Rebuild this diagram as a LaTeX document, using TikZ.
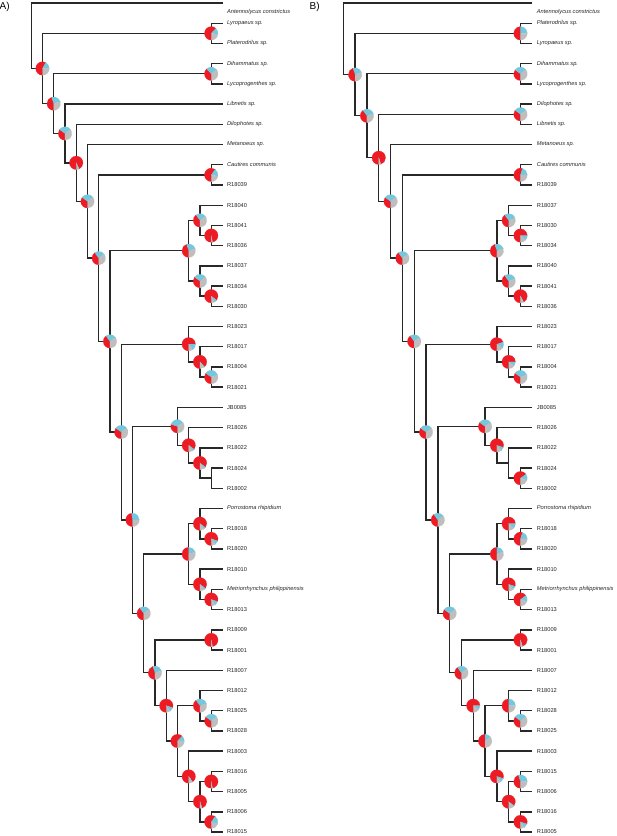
\documentclass[tikz,border=0pt]{standalone}
\usepackage{fontspec}
\setmainfont{Liberation Sans}
\usetikzlibrary{calc}
\definecolor{pred}{RGB}{237,28,36}
\definecolor{pcy}{RGB}{115,200,222}
\definecolor{pgr}{RGB}{190,190,190}
\definecolor{brc}{RGB}{40,40,40}
\newcommand\tipx{222.5}
\newcommand\stepx{11.25}
\newcommand\pierad{6.8pt}
\newcommand\inode[4]{%
  \pgfmathsetmacro\tmpx{\tipx-\stepx*#2}%
  \path let \p1=(#3), \p2=(#4) in coordinate (#1) at (\tmpx pt, {(\y1+\y2)/2});%
  \draw[br] (#3) -| (#1) |- (#4);}
\newcommand\tipnode[4]{%
  \coordinate (#1) at (\tipx, {3+20.22*#2});%
  \node[#4] (l#1) at ([xshift=4.4pt]#1) {#3};}
\newcommand\npie[4]{%
  \pgfmathsetmacro\pieA{-90-3.6*#2}%
  \pgfmathsetmacro\pieB{\pieA-3.6*#3}%
  \filldraw[pred, line width=0.1pt] (#1) -- ++(-90:\pierad) arc[start angle=-90, end angle=\pieA, radius=\pierad] -- cycle;
  \filldraw[pcy, line width=0.1pt] (#1) -- ++(\pieA:\pierad) arc[start angle=\pieA, end angle=\pieB, radius=\pierad] -- cycle;
  \filldraw[pgr, line width=0.1pt] (#1) -- ++(\pieB:\pierad) arc[start angle=\pieB, end angle=-450, radius=\pierad] -- cycle;}
\tikzset{
  br/.style={draw=brc, line width=1.4pt},
  lab/.style={anchor=west, inner sep=0pt, font=\fontsize{5.7}{6.5}\selectfont, text=black!85},
  spname/.style={lab, font=\fontsize{5.7}{6.5}\selectfont\itshape},
  panel/.style={anchor=west, inner sep=0pt, font=\fontsize{10}{12}\selectfont}
}
\begin{document}
\begin{tikzpicture}[x=1pt, y=-1pt]
\useasboundingbox (0,0) rectangle (617,836);
\node[panel] (pA) at (-0.5,6.5) {A)};
\node[panel] (pB) at (309.5,6.5) {B)};
% ---------- Panel A ----------
\def\tipx{222.5}\def\stepx{11.25}
\tipnode{a0}{0}{Antennolycus constrictus}{spname,yshift=-9.5pt}
\tipnode{a1}{1}{Lyropaeus sp.}{spname}
\tipnode{a2}{2}{Platerodrilus sp.}{spname}
\tipnode{a3}{3}{Dihammatus sp.}{spname}
\tipnode{a4}{4}{Lycoprogenthes sp.}{spname}
\tipnode{a5}{5}{Libnetis sp.}{spname}
\tipnode{a6}{6}{Dilophotes sp.}{spname}
\tipnode{a7}{7}{Metanoeus sp.}{spname}
\tipnode{a8}{8}{Cautires communis}{spname}
\tipnode{a9}{9}{R18039}{lab}
\tipnode{a10}{10}{R18040}{lab}
\tipnode{a11}{11}{R18041}{lab}
\tipnode{a12}{12}{R18036}{lab}
\tipnode{a13}{13}{R18037}{lab}
\tipnode{a14}{14}{R18034}{lab}
\tipnode{a15}{15}{R18030}{lab}
\tipnode{a16}{16}{R18023}{lab}
\tipnode{a17}{17}{R18017}{lab}
\tipnode{a18}{18}{R18004}{lab}
\tipnode{a19}{19}{R18021}{lab}
\tipnode{a20}{20}{JB0085}{lab}
\tipnode{a21}{21}{R18026}{lab}
\tipnode{a22}{22}{R18022}{lab}
\tipnode{a23}{23}{R18024}{lab}
\tipnode{a24}{24}{R18002}{lab}
\tipnode{a25}{25}{Porrostoma rhipidium}{spname}
\tipnode{a26}{26}{R18018}{lab}
\tipnode{a27}{27}{R18020}{lab}
\tipnode{a28}{28}{R18010}{lab}
\tipnode{a29}{29}{Metriorrhynchus philippinensis}{spname}
\tipnode{a30}{30}{R18013}{lab}
\tipnode{a31}{31}{R18009}{lab}
\tipnode{a32}{32}{R18001}{lab}
\tipnode{a33}{33}{R18007}{lab}
\tipnode{a34}{34}{R18012}{lab}
\tipnode{a35}{35}{R18025}{lab}
\tipnode{a36}{36}{R18028}{lab}
\tipnode{a37}{37}{R18003}{lab}
\tipnode{a38}{38}{R18016}{lab}
\tipnode{a39}{39}{R18005}{lab}
\tipnode{a40}{40}{R18006}{lab}
\tipnode{a41}{41}{R18015}{lab}
\inode{aLP}{1}{a1}{a2}
\inode{aDL}{1}{a3}{a4}
\inode{aCR}{1}{a8}{a9}
\inode{a4136}{1}{a11}{a12}
\inode{a4030}{1}{a14}{a15}
\inode{a0421}{1}{a18}{a19}
\inode{a2402}{1}{a23}{a24}
\inode{a1820}{1}{a26}{a27}
\inode{aM13}{1}{a29}{a30}
\inode{a0901}{1}{a31}{a32}
\inode{a2528}{1}{a35}{a36}
\inode{a1605}{1}{a38}{a39}
\inode{a0615}{1}{a40}{a41}
\inode{aC1a}{2}{a10}{a4136}
\inode{aC1b}{2}{a13}{a4030}
\inode{aC2a}{2}{a17}{a0421}
\inode{aC3b}{2}{a22}{a2402}
\inode{aC4a}{2}{a25}{a1820}
\inode{aC4b}{2}{a28}{aM13}
\inode{aC5}{2}{a34}{a2528}
\inode{aN15}{2}{a1605}{a0615}
\inode{aC1}{3}{aC1a}{aC1b}
\inode{aC2}{3}{a16}{aC2a}
\inode{aC3a}{3}{a21}{aC3b}
\inode{aC4}{3}{aC4a}{aC4b}
\inode{aN14}{3}{a37}{aN15}
\inode{aC3}{4}{a20}{aC3a}
\inode{aN13}{4}{aC5}{aN14}
\inode{aN12}{5}{a33}{aN13}
\inode{aN11}{6}{a0901}{aN12}
\inode{aN10}{7}{aC4}{aN11}
\inode{aN9}{8}{aC3}{aN10}
\inode{aN8}{9}{aC2}{aN9}
\inode{aN7}{10}{aC1}{aN8}
\inode{aN6}{11}{aCR}{aN7}
\inode{aN5}{12}{a7}{aN6}
\inode{aN4}{13}{a6}{aN5}
\inode{aN3}{14}{a5}{aN4}
\inode{aN2}{15}{aDL}{aN3}
\inode{aN1}{16}{aLP}{aN2}
\inode{aR}{17}{a0}{aN1}
\npie{aN1}{58}{17}{25}
\npie{aLP}{62}{15}{23}
\npie{aN2}{45}{25}{30}
\npie{aDL}{38}{27}{35}
\npie{aN3}{35}{30}{35}
\npie{aN4}{93}{1}{6}
\npie{aN5}{35}{30}{35}
\npie{aCR}{60}{18}{22}
\npie{aN6}{40}{25}{35}
\npie{aN7}{40}{25}{35}
\npie{aC1}{45}{25}{30}
\npie{aC1a}{40}{25}{35}
\npie{a4136}{97}{1}{2}
\npie{aC1b}{35}{30}{35}
\npie{a4030}{85}{7}{8}
\npie{aN8}{35}{30}{35}
\npie{aC2}{75}{15}{10}
\npie{aC2a}{88}{2}{10}
\npie{a0421}{35}{35}{30}
\npie{aN9}{48}{27}{25}
\npie{aC3}{30}{35}{35}
\npie{aC3a}{85}{5}{10}
\npie{aC3b}{85}{5}{10}
\npie{aN10}{40}{25}{35}
\npie{aC4}{50}{20}{30}
\npie{aC4a}{85}{5}{10}
\npie{a1820}{80}{10}{10}
\npie{aC4b}{85}{5}{10}
\npie{aM13}{80}{10}{10}
\npie{aN11}{45}{25}{30}
\npie{a0901}{97}{1}{2}
\npie{aN12}{80}{10}{10}
\npie{aC5}{40}{30}{30}
\npie{a2528}{35}{30}{35}
\npie{aN13}{62}{13}{25}
\npie{aN14}{90}{2}{8}
\npie{aN15}{95}{1}{4}
\npie{a1605}{97}{1}{2}
\npie{a0615}{60}{20}{20}
% ---------- Panel B ----------
\def\tipx{532.3}\def\stepx{11.81}
\tipnode{b0}{0}{Antennolycus constrictus}{spname,yshift=-9.5pt}
\tipnode{b1}{1}{Platerodrilus sp.}{spname}
\tipnode{b2}{2}{Lyropaeus sp.}{spname}
\tipnode{b3}{3}{Dihammatus sp.}{spname}
\tipnode{b4}{4}{Lycoprogenthes sp.}{spname}
\tipnode{b5}{5}{Dilophotes sp.}{spname}
\tipnode{b6}{6}{Libnetis sp.}{spname}
\tipnode{b7}{7}{Metanoeus sp.}{spname}
\tipnode{b8}{8}{Cautires communis}{spname}
\tipnode{b9}{9}{R18039}{lab}
\tipnode{b10}{10}{R18037}{lab}
\tipnode{b11}{11}{R18030}{lab}
\tipnode{b12}{12}{R18034}{lab}
\tipnode{b13}{13}{R18040}{lab}
\tipnode{b14}{14}{R18041}{lab}
\tipnode{b15}{15}{R18036}{lab}
\tipnode{b16}{16}{R18023}{lab}
\tipnode{b17}{17}{R18017}{lab}
\tipnode{b18}{18}{R18004}{lab}
\tipnode{b19}{19}{R18021}{lab}
\tipnode{b20}{20}{JB0085}{lab}
\tipnode{b21}{21}{R18026}{lab}
\tipnode{b22}{22}{R18022}{lab}
\tipnode{b23}{23}{R18024}{lab}
\tipnode{b24}{24}{R18002}{lab}
\tipnode{b25}{25}{Porrostoma rhipidium}{spname}
\tipnode{b26}{26}{R18018}{lab}
\tipnode{b27}{27}{R18020}{lab}
\tipnode{b28}{28}{R18010}{lab}
\tipnode{b29}{29}{Metriorrhynchus philippinensis}{spname}
\tipnode{b30}{30}{R18013}{lab}
\tipnode{b31}{31}{R18009}{lab}
\tipnode{b32}{32}{R18001}{lab}
\tipnode{b33}{33}{R18007}{lab}
\tipnode{b34}{34}{R18012}{lab}
\tipnode{b35}{35}{R18028}{lab}
\tipnode{b36}{36}{R18025}{lab}
\tipnode{b37}{37}{R18003}{lab}
\tipnode{b38}{38}{R18015}{lab}
\tipnode{b39}{39}{R18006}{lab}
\tipnode{b40}{40}{R18016}{lab}
\tipnode{b41}{41}{R18005}{lab}
\inode{bPL}{1}{b1}{b2}
\inode{bDL}{1}{b3}{b4}
\inode{bDiL}{1}{b5}{b6}
\inode{bCR}{1}{b8}{b9}
\inode{b3034}{1}{b11}{b12}
\inode{b4136}{1}{b14}{b15}
\inode{b0421}{1}{b18}{b19}
\inode{b2402}{1}{b23}{b24}
\inode{b1820}{1}{b26}{b27}
\inode{bM13}{1}{b29}{b30}
\inode{b0901}{1}{b31}{b32}
\inode{b2825}{1}{b35}{b36}
\inode{b1506}{1}{b38}{b39}
\inode{b1605}{1}{b40}{b41}
\inode{bC1a}{2}{b10}{b3034}
\inode{bC1b}{2}{b13}{b4136}
\inode{bC2a}{2}{b17}{b0421}
\inode{bC3b}{2}{b22}{b2402}
\inode{bC4a}{2}{b25}{b1820}
\inode{bC4b}{2}{b28}{bM13}
\inode{bC5}{2}{b34}{b2825}
\inode{bN15}{2}{b1506}{b1605}
\inode{bC1}{3}{bC1a}{bC1b}
\inode{bC2}{3}{b16}{bC2a}
\inode{bC3a}{3}{b21}{bC3b}
\inode{bC4}{3}{bC4a}{bC4b}
\inode{bN14}{3}{b37}{bN15}
\inode{bC3}{4}{b20}{bC3a}
\inode{bN13}{4}{bC5}{bN14}
\inode{bN12}{5}{b33}{bN13}
\inode{bN11}{6}{b0901}{bN12}
\inode{bN10}{7}{bC4}{bN11}
\inode{bN9}{8}{bC3}{bN10}
\inode{bN8}{9}{bC2}{bN9}
\inode{bN7}{10}{bC1}{bN8}
\inode{bN6}{11}{bCR}{bN7}
\inode{bN4}{12}{b7}{bN6}
\inode{bN3}{13}{bDiL}{bN4}
\inode{bN2}{14}{bDL}{bN3}
\inode{bN1}{15}{bPL}{bN2}
\inode{bR}{16}{b0}{bN1}
\npie{bN1}{45}{25}{30}
\npie{bPL}{50}{25}{25}
\npie{bN2}{40}{30}{30}
\npie{bDL}{35}{30}{35}
\npie{bN3}{95}{1}{4}
\npie{bDiL}{35}{30}{35}
\npie{bN4}{35}{30}{35}
\npie{bCR}{55}{20}{25}
\npie{bN6}{40}{25}{35}
\npie{bN7}{40}{25}{35}
\npie{bC1}{45}{25}{30}
\npie{bC1a}{40}{30}{30}
\npie{b3034}{75}{12}{13}
\npie{bC1b}{40}{30}{30}
\npie{b4136}{92}{1}{7}
\npie{bN8}{35}{30}{35}
\npie{bC2}{70}{15}{15}
\npie{bC2a}{75}{10}{15}
\npie{b0421}{35}{35}{30}
\npie{bN9}{40}{25}{35}
\npie{bC3}{35}{30}{35}
\npie{bC3a}{80}{8}{12}
\npie{b2402}{65}{15}{20}
\npie{bN10}{35}{30}{35}
\npie{bC4}{50}{20}{30}
\npie{bC4a}{75}{12}{13}
\npie{b1820}{55}{20}{25}
\npie{bC4b}{80}{8}{12}
\npie{bM13}{65}{15}{20}
\npie{bN11}{40}{25}{35}
\npie{b0901}{95}{1}{4}
\npie{bN12}{75}{10}{15}
\npie{bC5}{50}{25}{25}
\npie{b2825}{35}{30}{35}
\npie{bN13}{50}{15}{35}
\npie{bN14}{80}{10}{10}
\npie{bN15}{85}{3}{12}
\npie{b1506}{45}{30}{25}
\npie{b1605}{80}{10}{10}
\end{tikzpicture}
\end{document}
